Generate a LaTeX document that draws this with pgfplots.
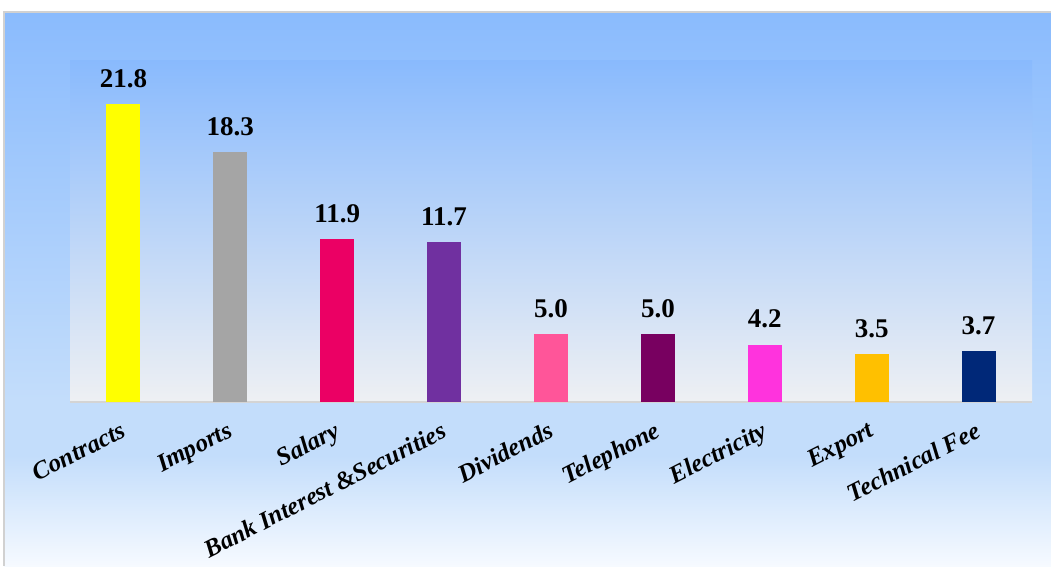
\documentclass[border=0pt]{standalone}
\usepackage{pgfplots}
\pgfplotsset{compat=1.18}
\usepackage{fontspec}
\setmainfont{Liberation Serif}
\definecolor{bgtop}{RGB}{138,187,253}
\definecolor{bgmid}{RGB}{195,221,251}
\definecolor{bgbot}{RGB}{246,250,255}
\definecolor{intop}{RGB}{137,186,253}
\definecolor{inbot}{RGB}{238,240,243}
\definecolor{cA}{RGB}{255,255,0}
\definecolor{cB}{RGB}{165,165,165}
\definecolor{cC}{RGB}{235,0,100}
\definecolor{cD}{RGB}{112,48,160}
\definecolor{cE}{RGB}{255,85,153}
\definecolor{cF}{RGB}{120,0,96}
\definecolor{cG}{RGB}{255,51,221}
\definecolor{cH}{RGB}{255,192,0}
\definecolor{cI}{RGB}{0,40,120}
\begin{document}
\begin{tikzpicture}[x=1pt,y=1pt]
\useasboundingbox (0,0) rectangle (1051,566);
\fill[white] (0,0) rectangle (1051,566);
% outer panel
\fill[top color=bgtop,bottom color=bgmid] (4,166) rectangle (1051,554);
\fill[bgmid] (4,110) rectangle (1051,166.5);
\fill[top color=bgmid,bottom color=bgbot] (4,0) rectangle (1051,110.5);
\draw[black!18,line width=2pt] (4,0) -- (4,554) -- (1051,554);
\begin{axis}[
  at={(70pt,164pt)}, anchor=south west,
  width=962pt, height=342pt, scale only axis,
  ybar, bar width=34pt,
  xmin=-0.5, xmax=8.5, ymin=0, ymax=25,
  axis background/.style={top color=intop,bottom color=inbot,draw=none},
  axis x line*=bottom, axis y line=none,
  x axis line style={draw=black!17,line width=2.5pt},
  xtick={0,1,2,3,4,5,6,7,8},
  xticklabels={Contracts,Imports,Salary,Bank Interest \&Securities,Dividends,Telephone,Electricity,Export,Technical Fee},
  major tick length=0pt,
  xticklabel style={rotate=27, anchor=north east, inner sep=0pt, yshift=-15pt, xshift=-12pt,
    font=\fontsize{25}{25}\selectfont\rmfamily\bfseries\itshape},
  /pgf/number format/assume math mode=true,
  nodes near coords={\pgfmathprintnumber[fixed,fixed zerofill,precision=1]{\pgfplotspointmeta}},
  every node near coord/.style={anchor=south, inner sep=0pt, yshift=16pt,
    font=\fontsize{27}{27}\selectfont\bfseries, text=black},
  clip=false,
]
\addplot[fill=cA,draw=none,bar shift=0pt] coordinates {(0,21.8)};
\addplot[fill=cB,draw=none,bar shift=0pt] coordinates {(1,18.3)};
\addplot[fill=cC,draw=none,bar shift=0pt] coordinates {(2,11.9)};
\addplot[fill=cD,draw=none,bar shift=0pt] coordinates {(3,11.7)};
\addplot[fill=cE,draw=none,bar shift=0pt] coordinates {(4,5.0)};
\addplot[fill=cF,draw=none,bar shift=0pt] coordinates {(5,5.0)};
\addplot[fill=cG,draw=none,bar shift=0pt] coordinates {(6,4.2)};
\addplot[fill=cH,draw=none,bar shift=0pt] coordinates {(7,3.5)};
\addplot[fill=cI,draw=none,bar shift=0pt] coordinates {(8,3.7)};
\end{axis}
\end{tikzpicture}
\end{document}
